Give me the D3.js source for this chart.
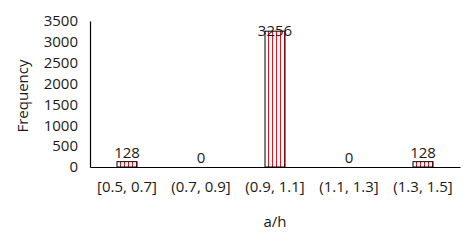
<!DOCTYPE html>
<html>
<head>
<meta charset="utf-8">
<script src="https://cdn.jsdelivr.net/npm/d3@7"></script>
<style>
  body { margin: 0; background: #fff; }
  svg text { font-family: "Open Sans", sans-serif; fill: #1a1a1a; }
</style>
</head>
<body>
<svg width="474" height="243"></svg>
<script>
// chart data
const categories = ["[0.5, 0.7]", "(0.7, 0.9]", "(0.9, 1.1]", "(1.1, 1.3]", "(1.3, 1.5]"];
const frequency = [128, 0, 3256, 0, 128];
const yTicks = [0, 500, 1000, 1500, 2000, 2500, 3000, 3500];

const svg = d3.select("svg");
const margin = { left: 90, right: 14, top: 21, bottom: 76 };
const width = 474 - margin.left - margin.right;
const height = 243 - margin.top - margin.bottom;

// striped fill like the excel pattern
const pat = svg.append("defs").append("pattern")
  .attr("id", "stripes")
  .attr("patternUnits", "userSpaceOnUse")
  .attr("width", 4)
  .attr("height", 4);
pat.append("rect").attr("width", 4).attr("height", 4).attr("fill", "#fff");
pat.append("rect").attr("x", 2).attr("width", 1).attr("height", 4).attr("fill", "#e8141c");

const g = svg.append("g").attr("transform", `translate(${margin.left},${margin.top})`);

const x = d3.scaleBand().domain(categories).range([0, width]).paddingInner(0.73).paddingOuter(0.365);
const y = d3.scaleLinear().domain([0, 3500]).range([height, 0]);

// y axis
const yAxis = g.append("g")
  .call(d3.axisLeft(y).tickValues(yTicks).tickFormat(d3.format("d")).tickSize(0).tickPadding(12));
yAxis.select(".domain").attr("stroke", "#000").attr("stroke-width", 1.2);
yAxis.selectAll("text").attr("font-size", 15).attr("fill", "#1a1a1a");

// bars
g.selectAll("rect.bar")
  .data(frequency)
  .enter()
  .append("rect")
  .attr("class", "bar")
  .attr("x", (d, i) => x(categories[i]))
  .attr("y", d => y(d))
  .attr("width", x.bandwidth())
  .attr("height", d => height - y(d))
  .attr("fill", "url(#stripes)")
  .attr("stroke", "#000")
  .attr("stroke-width", 1);

// x axis
const xAxis = g.append("g")
  .attr("transform", `translate(0,${height})`)
  .call(d3.axisBottom(x).tickSize(0).tickPadding(14));
xAxis.select(".domain").attr("stroke", "#000").attr("stroke-width", 1.2);
xAxis.selectAll("text").attr("font-size", 15).attr("fill", "#1a1a1a");

// value labels
g.selectAll("text.val")
  .data(frequency)
  .enter()
  .append("text")
  .attr("class", "val")
  .attr("x", (d, i) => x(categories[i]) + x.bandwidth() / 2)
  .attr("y", d => Math.max(y(d) - 4, 15))
  .attr("text-anchor", "middle")
  .attr("font-size", 15)
  .text(d => d);

// axis titles
svg.append("text")
  .attr("x", margin.left + width / 2)
  .attr("y", 227)
  .attr("text-anchor", "middle")
  .attr("font-size", 15)
  .text("a/h");

svg.append("text")
  .attr("transform", `translate(28,${margin.top + height / 2 + 2}) rotate(-90)`)
  .attr("text-anchor", "middle")
  .attr("font-size", 15)
  .text("Frequency");
</script>
</body>
</html>
